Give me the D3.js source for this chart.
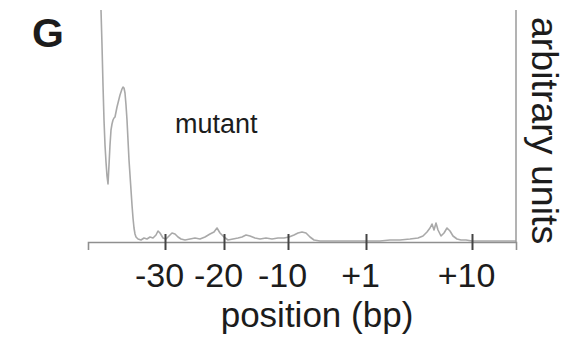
<!DOCTYPE html>
<html>
<head>
<meta charset="utf-8">
<script src="https://cdn.jsdelivr.net/npm/d3@7/dist/d3.min.js"></script>
<style>
  html, body { margin: 0; padding: 0; background: #fff; }
  svg { display: block; }
  text { font-family: "Liberation Sans", Arial, Helvetica, sans-serif; fill: #1c1c1c; }
</style>
</head>
<body>
<script>
// Densitometry trace of the mutant lane (scan position vs. signal, arbitrary units)
const scanPos = [
  6.5, 7, 7.5, 8, 8.5, 9, 9.5, 10, 10.5, 11, 11.5, 12, 12.5, 13, 13.5, 14, 14.5, 15, 15.5, 16,
  16.5, 17, 17.5, 18, 18.5, 19, 19.5, 20, 20.5, 21, 21.5, 22, 22.5, 23, 23.5, 24, 25, 26.5, 28, 29.5,
  31, 32.5, 34, 35, 36, 37.5, 39, 40.5, 42, 43.5, 45, 46.5, 48.5, 51, 53.5, 56, 58.5, 61, 63, 64.5,
  66, 68, 70, 72.5, 75, 77, 79, 81, 83.5, 86, 89, 92, 95, 98, 100.5, 103, 105, 107, 109, 111,
  113, 116, 121, 126, 131, 136, 141, 146, 151, 156, 161, 165, 167.5, 169.5, 171, 172, 173, 174, 175, 176.5,
  178, 179.5, 181, 182.5, 184.5, 186.5, 189, 192, 196, 201, 206, 211, 214
];
const signal = [
  116, 98.5, 78.5, 61, 48.5, 40, 33, 29, 38.5, 48.5, 56, 59, 61, 62, 62.5, 65, 67.5, 69.5, 71.5, 73.5,
  75, 76.5, 77.5, 77, 74.5, 68.5, 61, 51, 41, 33.5, 26, 18.5, 12, 7, 4, 2.5, 1.5, 1, 2, 1.5,
  2.5, 2, 3.5, 5.5, 4.5, 2, 1.5, 3, 4.5, 4, 2.5, 1.5, 1, 1.5, 2, 1.5, 2.5, 4, 5, 7,
  4.5, 2.5, 1, 1.5, 2, 2.5, 3.5, 3, 2, 1.5, 2, 1.5, 2, 2, 2.5, 3.5, 4.5, 5, 4.5, 2.5,
  1, 0.5, 0.5, 0.5, 0.5, 0.5, 0.5, 0.5, 1, 1, 1.5, 2, 3, 5, 7, 9, 6, 9.5, 6, 3,
  4.5, 7, 5.5, 3, 1.5, 1, 1, 0.5, 0.5, 0.5, 0.5, 0.5, 0.5
];

// Axis ticks: scan positions of the sequence landmarks and their labels
const tickPos = [38.5, 68, 100, 139, 192];
const tickLabels = ["-30", "-20", "-10", "+1", "+10"];

const scanDomain = [0, 214];
const signalDomain = [0, 116];

const W = 569, H = 338;
const svg = d3.select("body").append("svg").attr("width", W).attr("height", H);

const x = d3.scaleLinear().domain(scanDomain).range([88, 516]);
const y = d3.scaleLinear().domain(signalDomain).range([242, 10]);

// trace
const pts = scanPos.map((s, i) => [s, signal[i]]);
svg.append("path")
  .datum(pts)
  .attr("fill", "none")
  .attr("stroke", "#a9a9a9")
  .attr("stroke-width", 1.6)
  .attr("stroke-linejoin", "round")
  .attr("d", d3.line().x(d => x(d[0])).y(d => y(d[1])));

// right-hand intensity axis (line only)
svg.append("line")
  .attr("x1", x(scanDomain[1])).attr("x2", x(scanDomain[1]))
  .attr("y1", y(signalDomain[0])).attr("y2", y(signalDomain[1]))
  .attr("stroke", "#9a9a9a").attr("stroke-width", 1.5);

// bottom position axis
const xAxis = d3.axisBottom(x)
  .tickValues(tickPos)
  .tickFormat((d, i) => tickLabels[i])
  .tickSize(8);

const gx = svg.append("g")
  .attr("transform", `translate(0,${y(0)})`)
  .call(xAxis);

gx.select(".domain").attr("stroke", "#8f8f8f").attr("stroke-width", 1.6);
gx.selectAll(".tick line")
  .attr("y1", -8).attr("y2", 8)
  .attr("stroke", "#444").attr("stroke-width", 2);
gx.selectAll(".tick text")
  .attr("y", 45).attr("dy", 0).attr("dx", -6)
  .style("font-size", "34px")
  .style("font-family", "'Liberation Sans', Arial, sans-serif")
  .attr("fill", "#1c1c1c");

// axis titles
svg.append("text")
  .attr("x", 317).attr("y", 327)
  .attr("text-anchor", "middle")
  .style("font-size", "35px")
  .text("position (bp)");

svg.append("text")
  .attr("transform", "translate(532,17) rotate(90)")
  .attr("text-anchor", "start")
  .style("font-size", "37.5px")
  .text("arbitrary units");

// lane label and panel letter
svg.append("text")
  .attr("x", 175).attr("y", 133)
  .style("font-size", "27px")
  .text("mutant");

svg.append("text")
  .attr("x", 32).attr("y", 47)
  .style("font-size", "41px")
  .style("font-weight", "bold")
  .attr("fill", "#111")
  .text("G");
</script>
</body>
</html>
